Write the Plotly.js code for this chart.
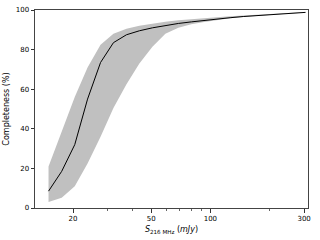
<!DOCTYPE html>
<html>
<head>
<meta charset="utf-8">
<script src="https://cdn.plot.ly/plotly-3.0.1.min.js"></script>
<style>html,body{margin:0;padding:0;background:#fff;}#chart{width:320px;height:240px;}</style>
</head>
<body>
<div id="chart"></div>
<script>
const flux = [15, 17.5, 20.4, 23.7, 27.6, 32.1, 37.4, 43.5, 50.7, 59.0, 68.7, 80.0, 93.1, 108, 126, 147, 171, 199, 232, 270, 305];
const completeness = [8.5, 18.5, 32, 55, 73.5, 83.5, 87.5, 89.5, 91, 92.2, 93.2, 94, 94.8, 95.5, 96.1, 96.7, 97.2, 97.7, 98.1, 98.5, 98.8];
const upper = [21, 39, 56, 71, 82.5, 88, 90.5, 92, 93.2, 94.1, 94.8, 95.4, 96, 96.4, 96.8, 97.2, 97.6, 98, 98.4, 98.7, 99];
const lower = [3, 5.2, 11, 22.5, 36, 50.5, 62.5, 73, 81.5, 88, 91, 92.8, 94, 95, 95.8, 96.5, 97.1, 97.6, 98, 98.4, 98.7];
const xTicks = [20, 50, 100, 300];
const xMinor = [30, 40, 60, 70, 80, 90, 200];
const yTicks = [0, 20, 40, 60, 80, 100];

const font = {family: 'DejaVu Sans', size: 7, color: '#000'};
const traces = [
  {x: flux, y: lower, mode: 'lines', line: {width: 0, color: 'rgba(0,0,0,0)'}, hoverinfo: 'skip', showlegend: false},
  {x: flux, y: upper, mode: 'lines', fill: 'tonexty', fillcolor: '#c0c0c0', line: {width: 0, color: 'rgba(0,0,0,0)'}, hoverinfo: 'skip', showlegend: false},
  {x: flux, y: completeness, mode: 'lines', line: {color: '#000', width: 1}, showlegend: false}
];
const layout = {
  width: 320, height: 240,
  margin: {l: 35, r: 12, t: 10, b: 32},
  paper_bgcolor: '#fff', plot_bgcolor: '#fff',
  font: font,
  showlegend: false,
  xaxis: {
    type: 'log', range: [Math.log10(12.8), Math.log10(314)],
    tickmode: 'array', tickvals: xTicks, ticktext: xTicks.map(String),
    ticks: 'outside', ticklen: 3.5, tickwidth: 0.8, tickcolor: '#000',
    minor: {tickmode: 'array', tickvals: xMinor, ticks: 'outside', ticklen: 2, tickwidth: 0.6, tickcolor: '#000', showgrid: false},
    showgrid: false, zeroline: false,
    showline: true, mirror: true, linecolor: '#444', linewidth: 1,
    tickfont: font,
    title: {text: '<i>S</i><sub>216 MHz</sub> (<i>mJy</i>)', font: {family: 'DejaVu Sans', size: 8, color: '#000'}, standoff: 4}
  },
  yaxis: {
    range: [0, 100],
    tickmode: 'array', tickvals: yTicks,
    ticks: 'outside', ticklen: 3.5, tickwidth: 0.8, tickcolor: '#000',
    showgrid: false, zeroline: false,
    showline: true, mirror: true, linecolor: '#444', linewidth: 1,
    tickfont: font,
    title: {text: 'Completeness (%)', font: {family: 'DejaVu Sans', size: 8, color: '#000'}, standoff: 4}
  }
};
Plotly.newPlot('chart', traces, layout, {staticPlot: true, displayModeBar: false});
</script>
</body>
</html>
